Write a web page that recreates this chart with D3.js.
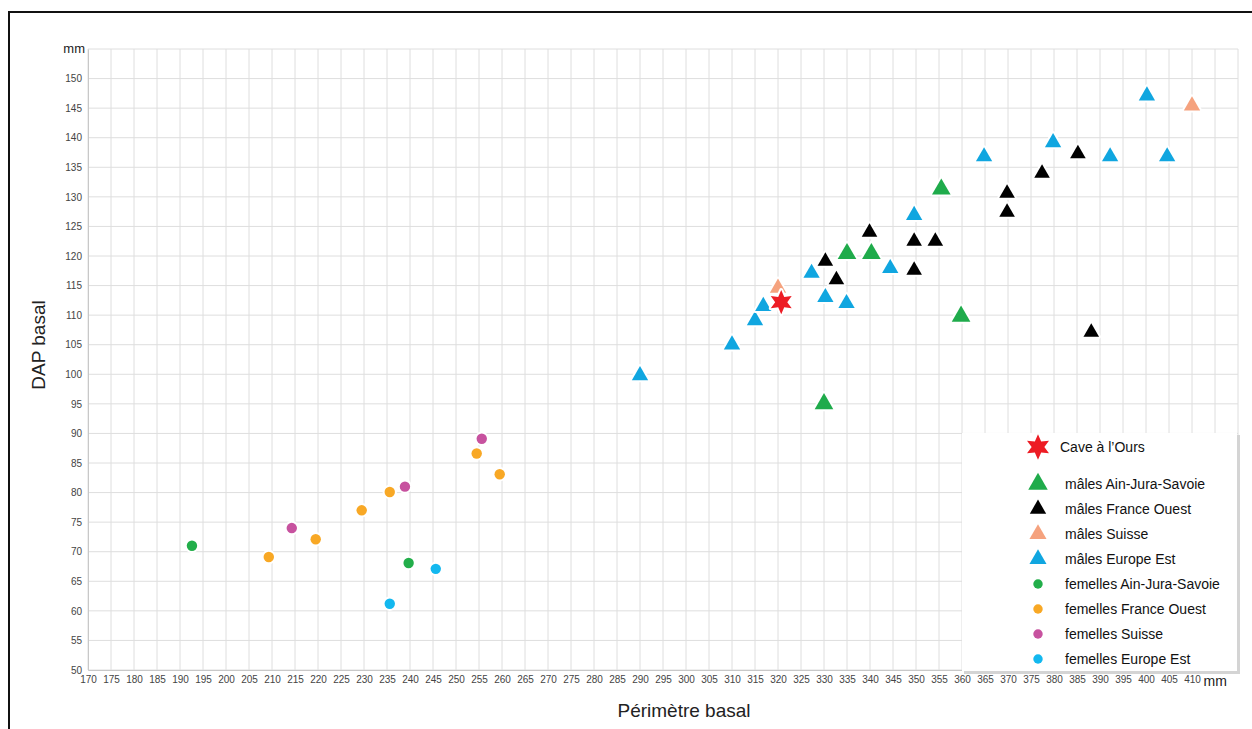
<!DOCTYPE html>
<html>
<head>
<meta charset="utf-8">
<script src="https://cdn.jsdelivr.net/npm/d3@7"></script>
<style>
  body { margin: 0; background: #fff; }
  svg { display: block; font-family: "Liberation Sans", Arial, sans-serif; }
</style>
</head>
<body>
<div id="wrapper"></div>
<script>
// perimetre basal (mm), DAP basal (mm)
const cave = [[320.7, 112.2]];
const malesAJS = [[330, 95], [335, 120.4], [340.3, 120.4], [355.5, 131.3], [359.8, 109.8]];
const malesFO = [[330.3, 119.1], [332.7, 116], [339.9, 124], [349.6, 122.5], [349.6, 117.6],
  [354.2, 122.5], [369.8, 130.6], [369.8, 127.4], [377.4, 134], [385.2, 137.3], [388.1, 107.1]];
const malesCH = [[320, 114.6], [410, 145.4]];
const malesEE = [[290, 99.8], [310, 105], [315, 109.1], [316.8, 111.5], [327.3, 117.1],
  [330.3, 113], [334.9, 112], [344.4, 117.9], [349.6, 126.9], [364.8, 136.8],
  [379.8, 139.2], [392.2, 136.8], [400.2, 147.1], [404.6, 136.8]];
const femAJS = [[192.6, 71], [239.7, 68.1]];
const femFO = [[209.3, 69.1], [219.5, 72.1], [229.5, 77], [235.6, 80.1], [254.5, 86.6], [259.5, 83.1]];
const femCH = [[214.3, 74], [238.9, 81], [255.6, 89.1]];
const femEE = [[235.6, 61.2], [245.6, 67.1]];

const xTicks = d3.range(170, 411, 5);
const yTicks = d3.range(50, 151, 5);

// six-pointed star used for the Cave a l'Ours specimen
const star6 = {
  draw(ctx, size) {
    const R = Math.sqrt(size) * 0.75, r = R * 0.5;
    for (let i = 0; i < 12; i++) {
      const a = (i * Math.PI) / 6 - Math.PI / 2;
      const rr = i % 2 ? r : R;
      i ? ctx.lineTo(rr * Math.cos(a), rr * Math.sin(a)) : ctx.moveTo(rr * Math.cos(a), rr * Math.sin(a));
    }
    ctx.closePath();
  },
};

const series = [
  { label: "Cave à l’Ours", data: cave, color: "#ed1c24", type: star6, size: 260 },
  { label: "mâles Ain-Jura-Savoie", data: malesAJS, color: "#1fab4b", type: d3.symbolTriangle, size: 150 },
  { label: "mâles France Ouest", data: malesFO, color: "#000000", type: d3.symbolTriangle, size: 105 },
  { label: "mâles Suisse", data: malesCH, color: "#f5a27e", type: d3.symbolTriangle, size: 115 },
  { label: "mâles Europe Est", data: malesEE, color: "#10a6e0", type: d3.symbolTriangle, size: 115 },
  { label: "femelles Ain-Jura-Savoie", data: femAJS, color: "#22ae4a", type: d3.symbolCircle, size: 85 },
  { label: "femelles France Ouest", data: femFO, color: "#f8a825", type: d3.symbolCircle, size: 85 },
  { label: "femelles Suisse", data: femCH, color: "#c7529f", type: d3.symbolCircle, size: 85 },
  { label: "femelles Europe Est", data: femEE, color: "#13b8ef", type: d3.symbolCircle, size: 85 },
];

const width = 1252, height = 729;
const margin = { top: 49, left: 88, right: 14, bottom: 59 };

const svg = d3.select("#wrapper").append("svg").attr("width", width).attr("height", height);

// frame
svg.append("path").attr("d", `M9,${height + 5}V12H${width + 5}`)
  .attr("fill", "none").attr("stroke", "#111").attr("stroke-width", 2);

const xScale = d3.scaleLinear().domain([170, 420]).range([margin.left, width - margin.right]);
const yScale = d3.scaleLinear().domain([50, 155]).range([height - margin.bottom, margin.top]);

// grid
const grid = svg.append("g").attr("stroke", "#dedede").attr("stroke-width", 1);
grid.selectAll(".gx").data(d3.range(170, 421, 5)).join("line")
  .attr("x1", (d) => xScale(d)).attr("x2", (d) => xScale(d))
  .attr("y1", yScale(50)).attr("y2", yScale(155));
grid.selectAll(".gy").data(d3.range(50, 156, 5)).join("line")
  .attr("x1", xScale(170)).attr("x2", xScale(420))
  .attr("y1", (d) => yScale(d)).attr("y2", (d) => yScale(d));

// axes
const xAxis = svg.append("g")
  .attr("transform", `translate(0,${yScale(50)})`)
  .call(d3.axisBottom(xScale).tickValues(xTicks).tickSize(0).tickPadding(6).tickFormat(d3.format("")));
xAxis.select(".domain").attr("stroke", "#c8c8c8");
xAxis.selectAll("text").attr("font-size", 10).attr("fill", "#444").attr("font-family", "Liberation Sans, Arial");

const yAxis = svg.append("g")
  .attr("transform", `translate(${xScale(170)},0)`)
  .call(d3.axisLeft(yScale).tickValues(yTicks).tickSize(0).tickPadding(6));
yAxis.select(".domain").attr("stroke", "#c8c8c8");
yAxis.selectAll("text").attr("font-size", 10).attr("fill", "#444").attr("font-family", "Liberation Sans, Arial");

svg.append("text").attr("x", xScale(170) - 3).attr("y", yScale(155) + 4)
  .attr("text-anchor", "end").attr("font-size", 13).attr("fill", "#222").text("mm");
svg.append("text").attr("x", xScale(412.5)).attr("y", yScale(50) + 16)
  .attr("font-size", 14).attr("fill", "#222").text("mm");

svg.append("text").attr("x", 684).attr("y", 717)
  .attr("text-anchor", "middle").attr("font-size", 19).attr("fill", "#222").text("Périmètre basal");
svg.append("text").attr("transform", `translate(45,345) rotate(-90)`)
  .attr("text-anchor", "middle").attr("font-size", 19).attr("fill", "#222").text("DAP basal");

// points, females first, star on top
const drawOrder = [5, 6, 7, 8, 4, 1, 2, 3, 0];
const marks = svg.append("g");
drawOrder.forEach((i) => {
  const s = series[i];
  marks.append("g").selectAll("path").data(s.data).join("path")
    .attr("transform", (d) => `translate(${xScale(d[0])},${yScale(d[1])})`)
    .attr("d", d3.symbol(s.type, s.size))
    .attr("fill", s.color)
    .attr("stroke", "#fff").attr("stroke-width", 4)
    .attr("stroke-linejoin", "round")
    .style("paint-order", "stroke");
});

// legend
const legend = svg.append("g").attr("transform", "translate(962,433)");
legend.append("rect").attr("x", 2).attr("y", 2).attr("width", 276).attr("height", 239).attr("fill", "#d4d4d4");
legend.append("rect").attr("width", 275).attr("height", 238).attr("fill", "#fff");
const legendY = (i) => (i === 0 ? 14 : 26 + i * 25);
const items = legend.selectAll(".item").data(series).join("g")
  .attr("transform", (d, i) => `translate(76,${legendY(i)})`);
items.append("path")
  .attr("d", (d) => d3.symbol(d.type, d.type === d3.symbolCircle ? 70 : d.size * 1.1)())
  .attr("fill", (d) => d.color);
items.append("text").attr("x", (d, i) => (i === 0 ? 22 : 27)).attr("dy", "0.35em")
  .attr("font-size", 14).attr("fill", "#111").text((d) => d.label);
</script>
</body>
</html>
